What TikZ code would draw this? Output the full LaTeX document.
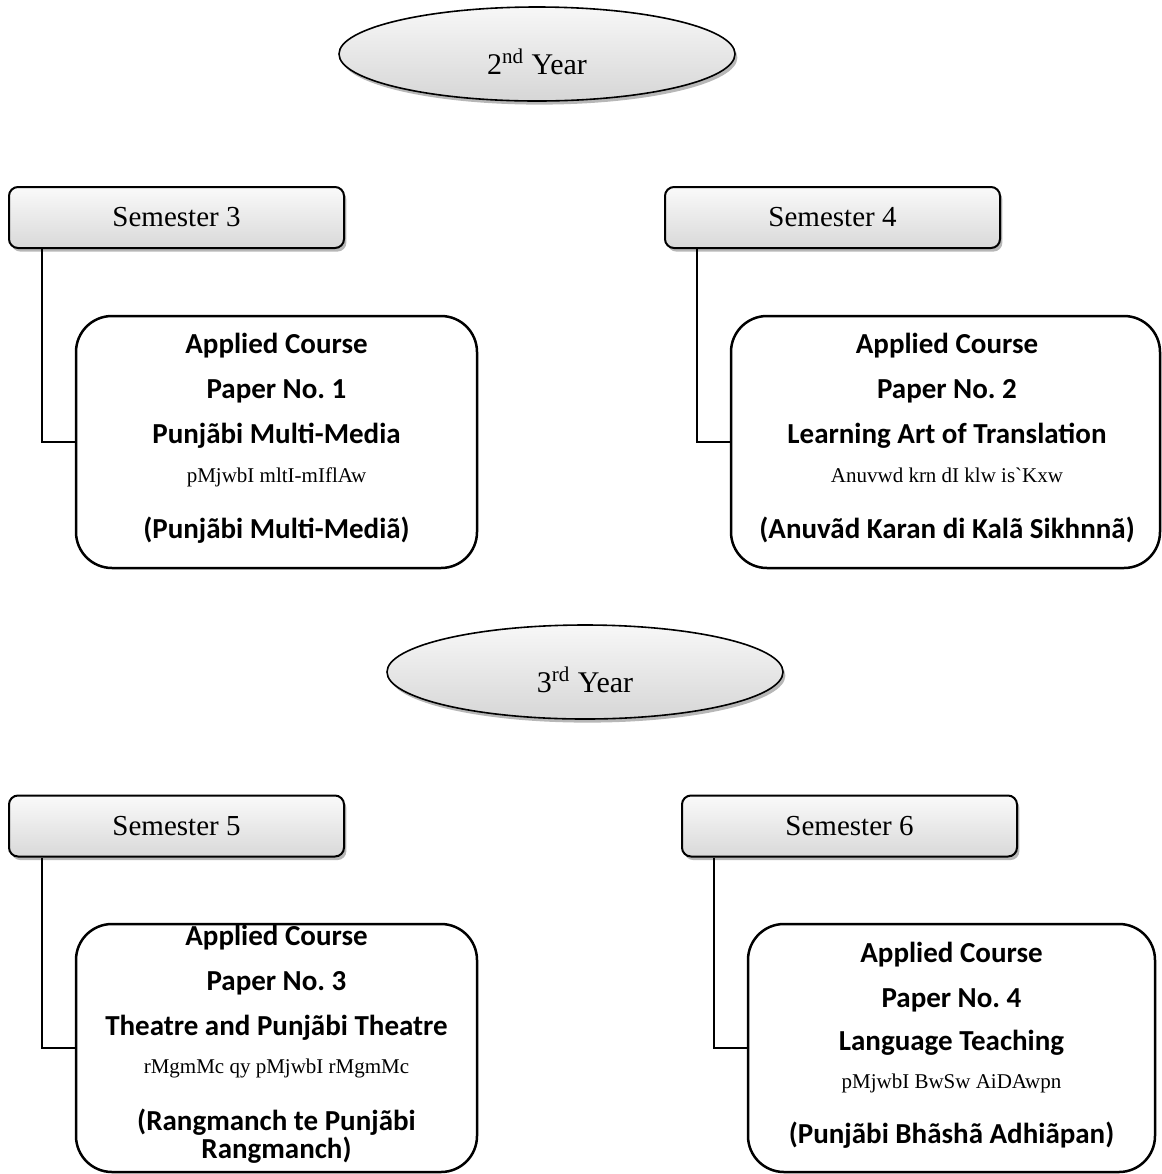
\documentclass[tikz,border=0pt]{standalone}
\usepackage{fontspec}
\setmainfont{Liberation Serif}
\newfontfamily\calfont{Carlito}
\usetikzlibrary{shapes.geometric,shadows}
\frenchspacing
\begin{document}
\begin{tikzpicture}[x=0.5pt,y=-0.5pt,
  softshadow/.style={drop shadow={shadow xshift=1.2pt,shadow yshift=-1.8pt,opacity=0.4,fill=black!70}},
  yearbox/.style={ellipse,draw,line width=0.8pt,top color=gray!6,bottom color=gray!32,
    minimum width=198pt,minimum height=47pt,inner sep=0pt,softshadow,
    font=\fontsize{15pt}{18pt}\selectfont},
  sembox/.style={rectangle,rounded corners=4.5pt,draw,line width=1pt,top color=gray!4,bottom color=gray!30,
    minimum width=167.5pt,minimum height=30.5pt,inner sep=0pt,softshadow,
    font=\fontsize{14.5pt}{17pt}\selectfont},
  coursebox/.style={rectangle,rounded corners=18pt,draw,line width=1.25pt,fill=white,inner sep=0pt},
  bline/.style={anchor=base,inner sep=0pt,font=\calfont\bfseries\fontsize{14.5pt}{17pt}\selectfont},
  gline/.style={anchor=base,inner sep=0pt,font=\fontsize{10.5pt}{12pt}\selectfont},
  conn/.style={line width=0.65pt}
]
\useasboundingbox (0,0) rectangle (1162,1174);

% ---- 2nd year ----
\node[yearbox] (y2) at (537,54) {\raisebox{-10pt}[0pt][0pt]{2\textsuperscript{nd} Year}};

\node[sembox] (s3) at (176.5,217.5) {Semester 3};
\node[sembox] (s4) at (832.5,217.5) {Semester 4};

\node[coursebox,minimum width=200.5pt,minimum height=126pt] (c1) at (276.5,442) {};
\node[coursebox,minimum width=214.5pt,minimum height=126pt] (c2) at (945.5,442) {};

\draw[conn] ([xshift=17pt]s3.south west) |- (c1.west);
\draw[conn] ([xshift=16.5pt]s4.south west) |- (c2.west);

\node[bline] (c1a) at (276.5,353) {Applied Course};
\node[bline] (c1b) at (276.5,398) {Paper No. 1};
\node[bline] (c1c) at (276.5,443) {Punjãbi Multi-Media};
\node[gline] (c1d) at (276.5,482) {pMjwbI mltI-mIflAw};
\node[bline] (c1e) at (276.5,538) {(Punjãbi Multi-Mediã)};

\node[bline] (c2a) at (947,353) {Applied Course};
\node[bline] (c2b) at (947,398) {Paper No. 2};
\node[bline] (c2c) at (947,443) {Learning Art of Translation};
\node[gline] (c2d) at (947,482) {Anuvwd krn dI klw is\textasciigrave Kxw};
\node[bline] (c2e) at (947,538) {(Anuvãd Karan di Kalã Sikhnnã)};

% ---- 3rd year ----
\node[yearbox] (y3) at (585,672) {\raisebox{-10pt}[0pt][0pt]{3\textsuperscript{rd} Year}};

\node[sembox] (s5) at (176.5,826) {Semester 5};
\node[sembox] (s6) at (849.5,826) {Semester 6};

\node[coursebox,minimum width=200.5pt,minimum height=124pt] (c3) at (276.5,1048) {};
\node[coursebox,minimum width=203.5pt,minimum height=124pt] (c4) at (951.5,1048) {};

\draw[conn] ([xshift=17pt]s5.south west) |- (c3.west);
\draw[conn] ([xshift=16.5pt]s6.south west) |- (c4.west);

\node[bline] (c3a) at (276.5,945) {Applied Course};
\node[bline] (c3b) at (276.5,990) {Paper No. 3};
\node[bline] (c3c) at (276.5,1035) {Theatre and Punjãbi Theatre};
\node[gline] (c3d) at (276.5,1073) {rMgmMc qy pMjwbI rMgmMc};
\node[bline] (c3e) at (276.5,1130) {(Rangmanch te Punjãbi};
\node[bline] (c3f) at (276.5,1158) {Rangmanch)};

\node[bline] (c4a) at (951.5,962) {Applied Course};
\node[bline] (c4b) at (951.5,1007) {Paper No. 4};
\node[bline] (c4c) at (951.5,1050) {Language Teaching};
\node[gline] (c4d) at (951.5,1088) {pMjwbI BwSw AiDAwpn};
\node[bline] (c4e) at (951.5,1143) {(Punjãbi Bhãshã Adhiãpan)};
\end{tikzpicture}
\end{document}
